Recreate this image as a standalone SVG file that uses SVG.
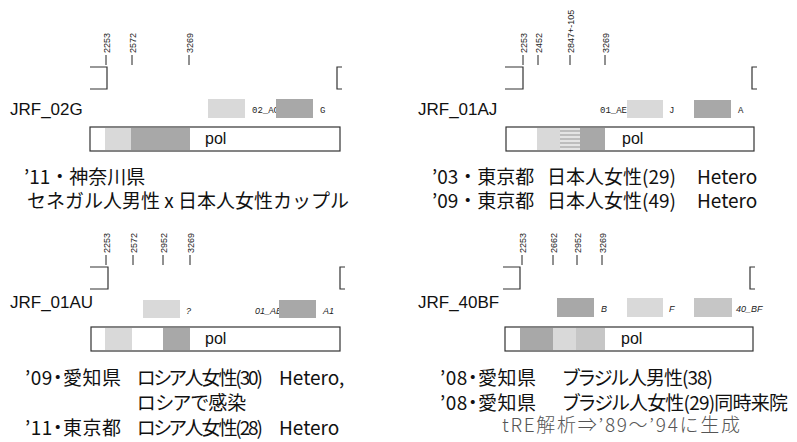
<svg xmlns="http://www.w3.org/2000/svg" width="797" height="442" viewBox="0 0 797 442">
<style>
.tk{font-family:"Liberation Sans",Arial,sans-serif;font-size:9px;fill:#222}
.tl{stroke:#222;stroke-width:1}
.br{fill:none;stroke:#333;stroke-width:1.2}
.nm{font-family:"Liberation Sans",Arial,sans-serif;font-size:17px;fill:#111}
.sm{font-family:"Liberation Mono","DejaVu Sans Mono",monospace;font-size:9px;fill:#222}
.si{font-family:"Liberation Sans",Arial,sans-serif;font-size:9px;font-style:italic;fill:#222}
.bar{fill:#fff;stroke:#333;stroke-width:1.2}
.pl{font-family:"Liberation Sans",Arial,sans-serif;font-size:16px;fill:#111}
.lt{fill:#d9d9d9}
.md{fill:#c6c6c6}
.dk{fill:#a8a8a8}
.jp{font-family:"Noto Sans CJK JP",sans-serif;font-size:19px;fill:#111}
.pa{font-feature-settings:"palt"}
.gr{font-family:"Noto Sans CJK JP",sans-serif;font-size:19px;font-weight:300;fill:#555}
</style>
<defs>
<pattern id="stripe" width="4" height="4" patternUnits="userSpaceOnUse">
<rect width="4" height="4" fill="#bdbdbd"/>
<rect width="4" height="2" fill="#e4e4e4"/>
</pattern>
</defs>

<g id="panel-JRF_02G">
<g id="ticks1">
<line class="tl" x1="106" y1="55" x2="106" y2="65"/><text class="tk" transform="translate(109.5,53) rotate(-90)">2253</text>
<line class="tl" x1="132" y1="55" x2="132" y2="65"/><text class="tk" transform="translate(135.5,53) rotate(-90)">2572</text>
<line class="tl" x1="189" y1="55" x2="189" y2="65"/><text class="tk" transform="translate(192.5,53) rotate(-90)">3269</text>
</g>
<polyline class="br" points="90,67 107,67 107,89 90,89"/>
<polyline class="br" points="342,67 337,67 337,89 342,89"/>
<text class="nm" x="10" y="115">JRF_02G</text>
<rect class="lt" x="208" y="99" width="37" height="19"/>
<text class="sm" x="252" y="113">02_AC</text>
<rect class="dk" x="276" y="99" width="37" height="19"/>
<text class="sm" x="320" y="113">G</text>
<rect class="bar" x="90" y="127" width="250" height="24"/>
<rect class="lt" x="105" y="128" width="26" height="22"/>
<rect class="dk" x="131" y="128" width="59" height="22"/>
<text class="pl" x="205" y="144">pol</text>
<text class="jp" x="24" y="184">’11・神奈川県</text>
<text class="jp" x="27" y="208">セネガル人男性 x 日本人女性カップル</text>
</g>

<g id="panel-JRF_01AJ">
<g id="ticks2">
<line class="tl" x1="523" y1="55" x2="523" y2="65"/><text class="tk" transform="translate(526.5,53) rotate(-90)">2253</text>
<line class="tl" x1="538" y1="55" x2="538" y2="65"/><text class="tk" transform="translate(541.5,53) rotate(-90)">2452</text>
<line class="tl" x1="570" y1="55" x2="570" y2="65"/><text class="tk" transform="translate(573.5,53) rotate(-90)">2847+-105</text>
<line class="tl" x1="605" y1="55" x2="605" y2="65"/><text class="tk" transform="translate(608.5,53) rotate(-90)">3269</text>
</g>
<polyline class="br" points="505,67 523,67 523,89 505,89"/>
<polyline class="br" points="757,67 752,67 752,89 757,89"/>
<text class="nm" x="418" y="115">JRF_01AJ</text>
<text class="sm" x="600" y="113">01_AE</text>
<rect class="lt" x="627" y="100" width="36" height="18"/>
<text class="sm" x="669" y="113">J</text>
<rect class="dk" x="694" y="100" width="37" height="18"/>
<text class="sm" x="738" y="113">A</text>
<rect class="bar" x="506" y="127" width="248" height="24"/>
<rect class="lt" x="537" y="128" width="23" height="22"/>
<rect fill="url(#stripe)" x="560" y="128" width="20" height="22"/>
<rect class="dk" x="580" y="128" width="25" height="22"/>
<text class="pl" x="622" y="144">pol</text>
<text class="jp" x="432" y="184">’03・東京都</text>
<text class="jp" x="547" y="184">日本人女性(29)</text>
<text class="jp" x="697" y="184">Hetero</text>
<text class="jp" x="432" y="208">’09・東京都</text>
<text class="jp" x="547" y="208">日本人女性(49)</text>
<text class="jp" x="697" y="208">Hetero</text>
</g>

<g id="panel-JRF_01AU">
<g id="ticks3">
<line class="tl" x1="106" y1="255" x2="106" y2="265"/><text class="tk" transform="translate(109.5,253) rotate(-90)">2253</text>
<line class="tl" x1="133" y1="255" x2="133" y2="265"/><text class="tk" transform="translate(136.5,253) rotate(-90)">2572</text>
<line class="tl" x1="163" y1="255" x2="163" y2="265"/><text class="tk" transform="translate(166.5,253) rotate(-90)">2952</text>
<line class="tl" x1="190" y1="255" x2="190" y2="265"/><text class="tk" transform="translate(193.5,253) rotate(-90)">3269</text>
</g>
<polyline class="br" points="90,267 108,267 108,289 90,289"/>
<polyline class="br" points="345,267 340,267 340,289 345,289"/>
<text class="nm" x="10" y="308">JRF_01AU</text>
<rect class="lt" x="143" y="300" width="37" height="18"/>
<text class="si" x="186" y="314">?</text>
<text class="si" x="255" y="314">01_AE</text>
<rect class="dk" x="279" y="300" width="37" height="18"/>
<text class="si" x="323" y="314">A1</text>
<rect class="bar" x="91" y="327" width="249" height="24"/>
<rect class="lt" x="105" y="328" width="27" height="22"/>
<rect class="dk" x="163" y="328" width="27" height="22"/>
<text class="pl" x="205" y="344">pol</text>
<text class="jp pa" x="25" y="385" textLength="96">’09・愛知県</text>
<text class="jp pa" x="137" y="385" textLength="126">ロシア人女性(30)</text>
<text class="jp" x="279" y="385">Hetero,</text>
<text class="jp pa" x="137" y="410">ロシアで感染</text>
<text class="jp pa" x="25" y="435" textLength="96">’11・東京都</text>
<text class="jp pa" x="137" y="435" textLength="126">ロシア人女性(28)</text>
<text class="jp" x="279" y="435">Hetero</text>
</g>

<g id="panel-JRF_40BF">
<g id="ticks4">
<line class="tl" x1="522" y1="255" x2="522" y2="265"/><text class="tk" transform="translate(525.5,253) rotate(-90)">2253</text>
<line class="tl" x1="553" y1="255" x2="553" y2="265"/><text class="tk" transform="translate(556.5,253) rotate(-90)">2662</text>
<line class="tl" x1="577" y1="255" x2="577" y2="265"/><text class="tk" transform="translate(580.5,253) rotate(-90)">2952</text>
<line class="tl" x1="602" y1="255" x2="602" y2="265"/><text class="tk" transform="translate(605.5,253) rotate(-90)">3269</text>
</g>
<polyline class="br" points="503,267 520,267 520,289 503,289"/>
<polyline class="br" points="755,267 750,267 750,289 755,289"/>
<text class="nm" x="418" y="308">JRF_40BF</text>
<rect class="dk" x="557" y="298" width="37" height="19"/>
<text class="si" x="601" y="312">B</text>
<rect class="lt" x="627" y="298" width="36" height="19"/>
<text class="si" x="669" y="312">F</text>
<rect class="md" x="694" y="298" width="38" height="19"/>
<text class="si" x="736" y="312">40_BF</text>
<rect class="bar" x="505" y="327" width="248" height="24"/>
<rect class="dk" x="520" y="328" width="33" height="22"/>
<rect class="lt" x="553" y="328" width="23" height="22"/>
<rect class="md" x="576" y="328" width="29" height="22"/>
<text class="pl" x="621" y="344">pol</text>
<text class="jp pa" x="440" y="385" textLength="96">’08・愛知県</text>
<text class="jp pa" x="563" y="385" textLength="150">ブラジル人男性(38)</text>
<text class="jp pa" x="440" y="410" textLength="96">’08・愛知県</text>
<text class="jp pa" x="563" y="410" textLength="225">ブラジル人女性(29)同時来院</text>
<text class="gr" x="502" y="432" textLength="238">tRE解析⇒’89～’94に生成</text>
</g>
</svg>
